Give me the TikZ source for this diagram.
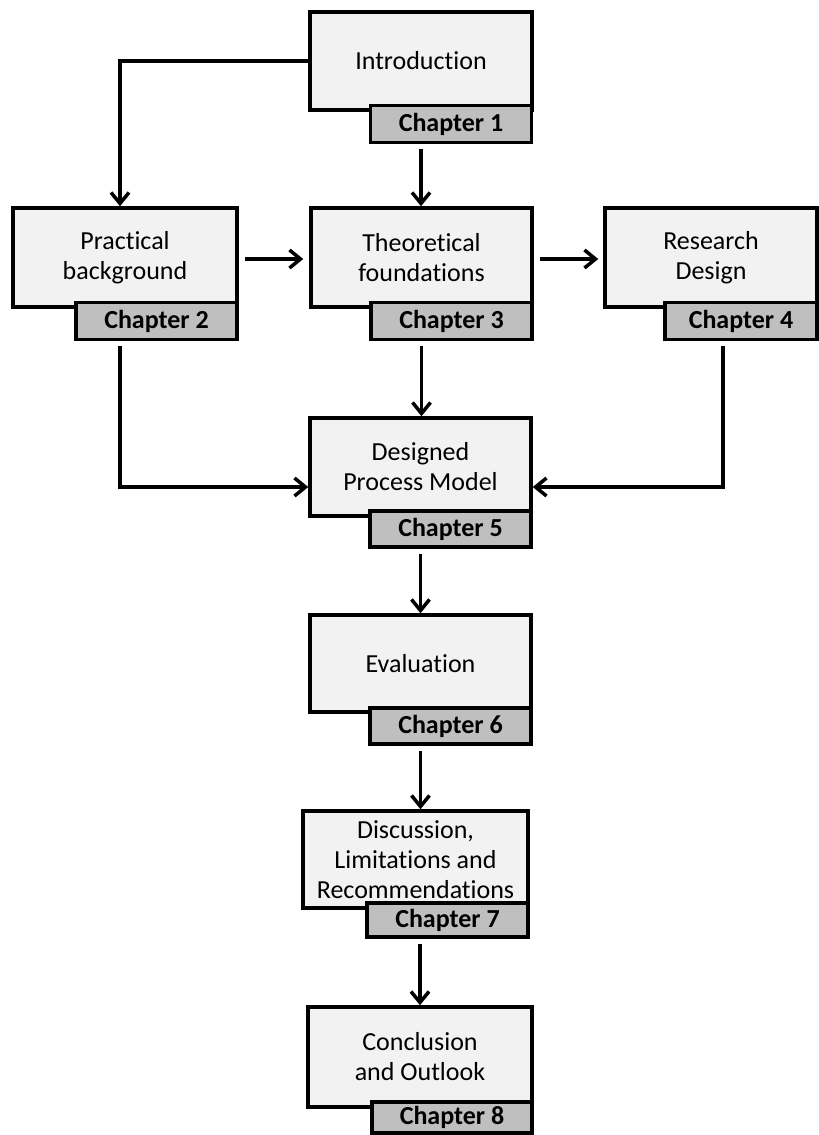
\documentclass[tikz,border=0pt]{standalone}
\usepackage{fontspec}
\setmainfont{Carlito}[Ligatures=NoCommon]
\usetikzlibrary{arrows.meta,calc}
\definecolor{boxfill}{HTML}{F2F2F2}
\definecolor{tabfill}{HTML}{BFBFBF}
\begin{document}
\begin{tikzpicture}[x=1pt,y=-1pt,
  chapbox/.style={draw=black,fill=boxfill,line width=3.5pt,inner sep=0pt,
    align=center,font=\fontsize{26}{30}\selectfont},
  chaptab/.style={draw=black,fill=tabfill,line width=3.5pt,inner sep=0pt,
    minimum width=161pt,minimum height=37pt,font=\fontsize{26}{30}\selectfont\bfseries},
  flow/.style={line width=3.5pt,-{Straight Barb[length=11pt,width=18pt]}},
]
\useasboundingbox (0,0) rectangle (819,1135);

% boxes
\node[chapbox,minimum width=222pt,minimum height=98pt] (b1) at (421,61) {Introduction};
\node[chaptab] (t1) at (451,124) {Chapter 1};

\node[chapbox,minimum width=224pt,minimum height=99pt] (b2) at (125,257.5) {Practical\\background};
\node[chaptab] (t2) at (156.5,321) {Chapter 2};

\node[chapbox,minimum width=221pt,minimum height=99pt] (b3) at (421.5,257.5) {Theoretical\\foundations};
\node[chaptab] (t3) at (451.5,321) {Chapter 3};

\node[chapbox,minimum width=212pt,minimum height=99pt] (b4) at (711,257.5) {Research\\Design};
\node[chaptab,minimum width=152pt] (t4) at (741,321) {Chapter 4};

\node[chapbox,minimum width=221pt,minimum height=98pt] (b5) at (420.5,467) {Designed\\Process Model};
\node[chaptab,minimum height=36pt] (t5) at (450.5,529) {Chapter 5};

\node[chapbox,minimum width=221pt,minimum height=97pt] (b6) at (420.5,663.5) {Evaluation};
\node[chaptab,minimum height=36pt] (t6) at (450.5,726) {Chapter 6};

\node[chapbox,minimum width=225pt,minimum height=97pt] (b7) at (415.5,859.5) {Discussion,\\Limitations and\\Recommendations};
\node[chaptab,minimum height=34pt] (t7) at (447.5,920) {Chapter 7};

\node[chapbox,minimum width=224pt,minimum height=100pt] (b8) at (420,1057) {Conclusion\\and Outlook};
\node[chaptab,minimum width=160pt,minimum height=31pt] (t8) at (452,1117.5) {Chapter 8};

% connectors
\draw[flow] (b1.west) -| ([xshift=-5pt]b2.north);
\draw[flow,shorten <=5pt] (b1.south |- t1.south) -- (b1.south |- b3.north);
\draw[flow,shorten <=6pt,shorten >=6pt] ([yshift=-1.5pt]b2.east) -- ([yshift=-1.5pt]b3.west);
\draw[flow,shorten <=6pt,shorten >=5pt] ([yshift=-1.5pt]b3.east) -- ([yshift=-1.5pt]b4.west);
\draw[flow,shorten <=5pt] ([xshift=-5pt]b2.south |- t2.south) |- ([yshift=-20pt]b5.west);
\draw[flow,shorten <=5pt] (b3.south |- t3.south) -- (b3.south |- b5.north);
\draw[flow,shorten <=5pt] ([xshift=12pt]b4.south |- t4.south) |- ([yshift=-20pt]b5.east);
\draw[flow,shorten <=5pt] (b5.south |- t5.south) -- (b5.south |- b6.north);
\draw[flow,shorten <=5pt] (b6.south |- t6.south) -- (b6.south |- b7.north);
\draw[flow,shorten <=5pt] (b8.north |- t7.south) -- (b8.north);
\end{tikzpicture}
\end{document}
